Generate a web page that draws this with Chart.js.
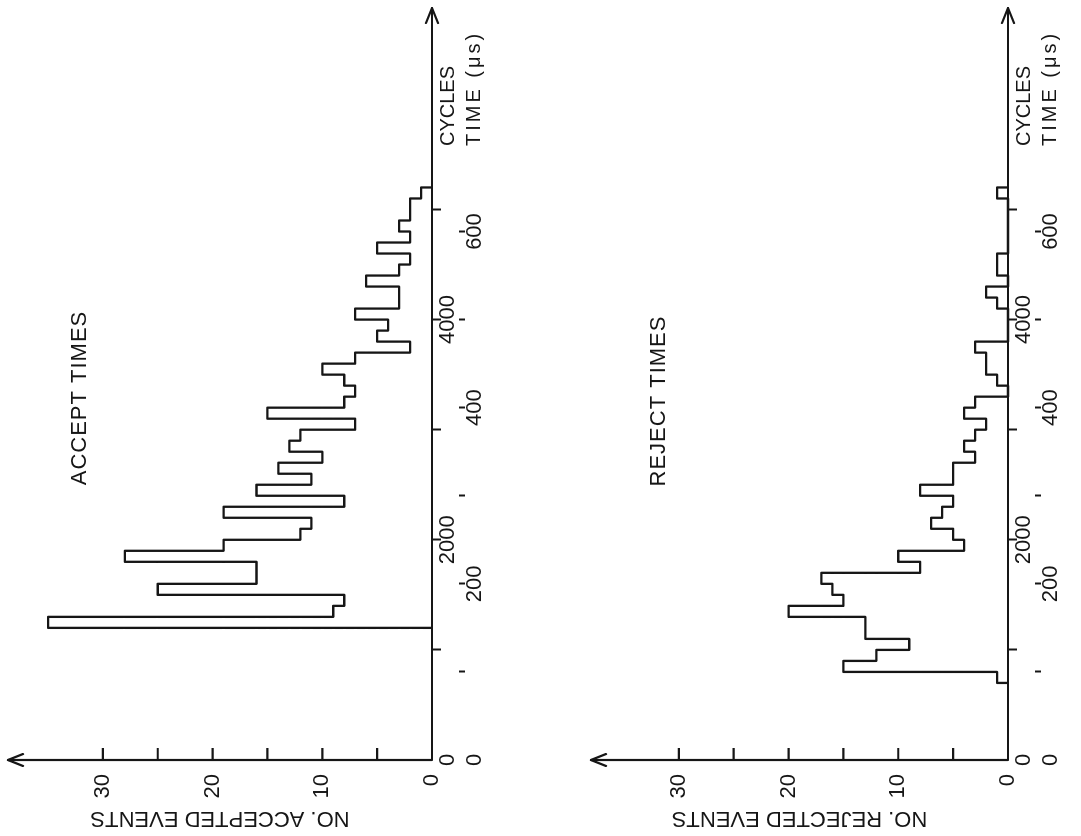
<!DOCTYPE html>
<html><head><meta charset="utf-8">
<script src="https://cdn.jsdelivr.net/npm/chart.js@4.4.1/dist/chart.umd.min.js"></script>
<style>
html,body{margin:0;padding:0;background:#fff;overflow:hidden;width:1081px;height:836px;}
#fig{position:absolute;left:0;top:0;width:836px;height:1081px;transform-origin:0 0;transform:translateY(836px) rotate(-90deg);background:#fff;}
#fig canvas{position:absolute;left:0;display:block;}
#c1{top:0;} #c2{top:540px;}
</style></head><body>
<div id="fig"><canvas id="c1" width="836" height="540"></canvas><canvas id="c2" width="836" height="541"></canvas></div>
<script>
// ---------------- data ----------------
const binWidth = 100; // cycles per histogram bin
const acceptBins = [1200,1300,1400,1500,1600,1700,1800,1900,2000,2100,2200,2300,2400,2500,2600,2700,2800,2900,3000,3100,3200,3300,3400,3500,3600,3700,3800,3900,4000,4100,4200,4300,4400,4500,4600,4700,4800,4900,5000,5100];
const acceptCounts = [35,9,8,25,16,16,28,19,12,11,19,8,16,11,14,10,13,12,7,15,8,7,8,10,7,2,5,4,7,3,3,6,3,2,5,2,3,2,2,1];
const rejectBins = [700,800,900,1000,1100,1200,1300,1400,1500,1600,1700,1800,1900,2000,2100,2200,2300,2400,2500,2600,2700,2800,2900,3000,3100,3200,3300,3400,3500,3600,3700,3800,3900,4000,4100,4200,4300,4400,4500,4600,4700,4800,4900,5000,5100];
const rejectCounts = [1,15,12,9,13,13,20,15,16,17,8,10,4,5,7,6,5,8,5,5,3,4,3,2,4,3,0,1,2,2,3,0,0,0,1,2,0,1,1,0,0,0,0,0,1];
const cycleTicks = [0,1000,2000,3000,4000,5000];
const cycleTickLabels = ['0','','2000','','4000',''];
const timeTicks = [0,100,200,300,400,500,600];
const timeTickLabels = ['0','','200','','400','','600'];
const countTicks = [0,10,20,30];
const countTickLabels = ['0','10','20','30'];
const countMarkTicks = [5,10,15,20,25,30];
const cyclesPerMicrosecond = 8;
const cycleAxisMax = 6830;

// ---------------- style ----------------
const FONT = "'Liberation Sans', Arial, sans-serif";
const INK = '#161616';

function histogramPoints(bins, counts) {
  const pts = [{x: bins[0], y: 0}];
  bins.forEach((b, i) => pts.push({x: b, y: counts[i]}));
  pts.push({x: bins[bins.length - 1] + binWidth, y: 0});
  return pts;
}

function noScalePadding(s) {
  s.paddingTop = 0; s.paddingBottom = 0; s.paddingLeft = 0; s.paddingRight = 0;
}

const decor = {
  id: 'decor',
  afterDraw(chart, args, o) {
    const {ctx, chartArea: a, scales} = chart;
    const ys = scales.y;
    ctx.save();
    ctx.strokeStyle = INK; ctx.lineWidth = 2.2; ctx.lineCap = 'round'; ctx.lineJoin = 'round';
    ctx.beginPath();
    ctx.moveTo(a.left, a.bottom); ctx.lineTo(a.right, a.bottom);
    ctx.moveTo(a.left, a.bottom); ctx.lineTo(a.left, a.top);
    ctx.stroke();
    ctx.beginPath();
    ctx.moveTo(a.right - 15, a.bottom - 6); ctx.lineTo(a.right, a.bottom); ctx.lineTo(a.right - 15, a.bottom + 6);
    ctx.moveTo(a.left - 6, a.top + 15); ctx.lineTo(a.left, a.top); ctx.lineTo(a.left + 6, a.top + 15);
    ctx.stroke();
    ctx.lineCap = 'butt';
    ctx.beginPath();
    countMarkTicks.forEach(v => {
      const py = ys.getPixelForValue(v);
      ctx.moveTo(a.left, py); ctx.lineTo(a.left + 12, py);
    });
    ctx.stroke();
    ctx.fillStyle = INK;
    ctx.textBaseline = 'middle';
    ctx.font = `22px ${FONT}`;
    ctx.letterSpacing = '1px';
    ctx.textAlign = 'center';
    ctx.fillText(o.title, o.titleX, o.titleY);
    ctx.textAlign = 'left';
    ctx.font = `20px ${FONT}`;
    ctx.letterSpacing = '0px';
    ctx.fillText('CYCLES', o.unitX, a.bottom + 16);
    ctx.letterSpacing = '3px';
    ctx.fillText('TIME (μs)', o.unitX, a.bottom + 42);
    ctx.restore();
  }
};

function makeChart(canvasId, bins, counts, cfg) {
  const tickFont = {family: FONT, size: 22, lineHeight: 1};
  return new Chart(document.getElementById(canvasId), {
    type: 'line',
    data: {
      datasets: [{
        data: histogramPoints(bins, counts),
        stepped: 'before',
        borderColor: INK,
        borderWidth: 2.3,
        pointRadius: 0,
        fill: false,
        tension: 0,
        clip: false,
        borderJoinStyle: 'round'
      }]
    },
    options: {
      responsive: false,
      animation: false,
      devicePixelRatio: 1,
      events: [],
      layout: {autoPadding: false, padding: {top: cfg.padTop, right: 8, bottom: cfg.padBottom, left: 0}},
      plugins: {
        legend: {display: false},
        tooltip: {enabled: false},
        decor: {title: cfg.title, titleX: cfg.titleX, titleY: cfg.titleY, unitX: 690}
      },
      scales: {
        x: {
          type: 'linear', axis: 'x', position: 'bottom', min: 0, max: cycleAxisMax,
          afterBuildTicks: s => { s.ticks = cycleTicks.map(v => ({value: v})); },
          ticks: {autoSkip: false, maxRotation: 0, padding: -4, color: INK, font: tickFont,
                  callback: (v, i) => cycleTickLabels[i]},
          grid: {display: true, drawOnChartArea: false, drawTicks: true, tickLength: 9, tickWidth: 2,
                 tickColor: c => (c.tick && c.tick.value === 0) ? 'rgba(0,0,0,0)' : INK},
          border: {display: false},
          afterFit: s => { s.height = 27; noScalePadding(s); }
        },
        x2: {
          type: 'linear', axis: 'x', position: 'bottom', min: 0, max: cycleAxisMax / cyclesPerMicrosecond,
          afterBuildTicks: s => { s.ticks = timeTicks.map(v => ({value: v})); },
          ticks: {autoSkip: false, maxRotation: 0, padding: -1, color: INK, font: tickFont,
                  callback: (v, i) => timeTickLabels[i]},
          grid: {display: true, drawOnChartArea: false, drawTicks: true, tickLength: 6, tickWidth: 2,
                 tickColor: c => (c.tick && c.tick.value === 0) ? 'rgba(0,0,0,0)' : INK},
          border: {display: false},
          afterFit: s => { s.height = 40; noScalePadding(s); }
        },
        y: {
          type: 'linear', position: 'left', min: 0, max: cfg.yMax,
          afterBuildTicks: s => { s.ticks = countTicks.map(v => ({value: v})); },
          ticks: {autoSkip: false, padding: 6, color: INK, font: {family: FONT, size: 22},
                  callback: (v, i) => countTickLabels[i]},
          grid: {display: false},
          border: {display: false},
          title: {display: true, text: cfg.yTitle, color: INK, font: {family: FONT, size: 22},
                  padding: {top: 5, bottom: 0}},
          afterFit: s => { s.width = 76; noScalePadding(s); }
        }
      }
    },
    plugins: [decor]
  });
}

makeChart('c1', acceptBins, acceptCounts, {
  title: 'ACCEPT TIMES', titleX: 438, titleY: 80,
  yTitle: 'NO. ACCEPTED EVENTS', yMax: 38.65, padTop: 8, padBottom: 41
});
makeChart('c2', rejectBins, rejectCounts, {
  title: 'REJECT TIMES', titleX: 435, titleY: 119,
  yTitle: 'NO. REJECTED EVENTS', yMax: 38.0, padTop: 51, padBottom: 6
});
</script>
</body></html>
